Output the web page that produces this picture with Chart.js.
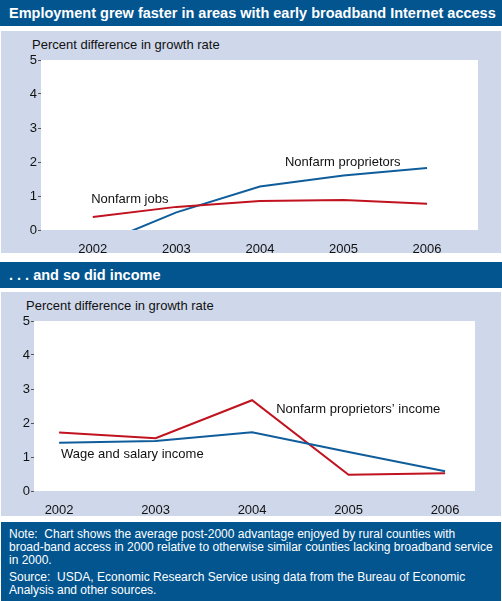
<!DOCTYPE html>
<html><head><meta charset="utf-8">
<script src="https://cdn.jsdelivr.net/npm/chart.js@4"></script>
<style>
body{margin:0;width:502px;height:601px;background:#fff;font-family:"Liberation Sans",Arial,sans-serif;position:relative;overflow:hidden}
.bar{position:absolute;left:0;width:502px;height:26px;background:#02558f;color:#fff;font-weight:bold;font-size:14.5px;line-height:26px;box-sizing:border-box;padding-left:9px}
.panel{position:absolute;left:1px;width:500px;background:#cfd8ea}
.ttl{position:absolute;font-size:13px;color:#111}
.note{position:absolute;left:1px;top:522px;width:500px;height:79px;background:#02558f;color:#fff;font-size:12px;line-height:13px;box-sizing:border-box;padding:6px 8px}
canvas{position:absolute;left:0}
</style></head><body>
<div class="bar" style="top:0">Employment grew faster in areas with early broadband Internet access . . .</div>
<div class="panel" style="top:31px;height:222px"></div>
<div class="ttl" style="left:32px;top:37px">Percent difference in growth rate</div>
<div style="position:absolute;left:0;top:31px;width:502px;height:222px"><canvas id="c1"></canvas></div>
<div class="bar" style="top:262px">. . . and so did income</div>
<div class="panel" style="top:292px;height:224px"></div>
<div class="ttl" style="left:26px;top:298px">Percent difference in growth rate</div>
<div style="position:absolute;left:0;top:292px;width:502px;height:224px"><canvas id="c2"></canvas></div>
<div class="note">Note:&nbsp; Chart shows the average post-2000 advantage enjoyed by rural counties with broad-band access in 2000 relative to otherwise similar counties lacking broadband service in 2000.<div style="margin-top:4px">Source:&nbsp; USDA, Economic Research Service using data from the Bureau of Economic Analysis and other sources.</div></div>
<script>
const years = [2002, 2003, 2004, 2005, 2006];
const yTicks = [0, 1, 2, 3, 4, 5];
const nonfarmJobs = [0.38, 0.68, 0.85, 0.88, 0.77];
const nonfarmProprietors = [-0.5, 0.52, 1.28, 1.6, 1.82];
const proprietorsIncome = [1.72, 1.55, 2.67, 0.48, 0.52];
const wageIncome = [1.42, 1.47, 1.73, 1.15, 0.58];
const labels1 = [{x: 2004.3, y: 2.0, t: 'Nonfarm proprietors'}, {x: 2001.98, y: 0.9, t: 'Nonfarm jobs'}];
const labels2 = [{x: 2004.25, y: 2.4, t: 'Nonfarm proprietors\u2019 income'}, {x: 2002.02, y: 1.08, t: 'Wage and salary income'}];

const RED = '#c0121f', BLUE = '#0f5d9b';

const chartBg = {
  id: 'chartBg',
  beforeDraw(c) {
    const a = c.chartArea, ctx = c.ctx;
    ctx.save(); ctx.fillStyle = '#fff';
    ctx.fillRect(a.left, a.top, a.right - a.left, a.bottom - a.top);
    ctx.restore();
  }
};
const textLabels = {
  id: 'textLabels',
  afterDraw(c) {
    const ctx = c.ctx, xs = c.scales.x, ys = c.scales.y;
    ctx.save();
    ctx.font = '13px "Liberation Sans", Arial, sans-serif';
    ctx.fillStyle = '#111'; ctx.textBaseline = 'middle';
    c.options.plugins.textLabels.items.forEach(l => {
      ctx.fillText(l.t, xs.getPixelForValue(l.x), ys.getPixelForValue(l.y));
    });
    ctx.restore();
  }
};

function make(id, s1, s2, col1, col2, xmin, xmax, pad, items) {
  new Chart(document.getElementById(id), {
    type: 'line',
    data: {
      datasets: [
        {data: years.map((y, i) => ({x: y, y: s1[i]})), borderColor: col1, borderWidth: 2, pointRadius: 0, tension: 0},
        {data: years.map((y, i) => ({x: y, y: s2[i]})), borderColor: col2, borderWidth: 2, pointRadius: 0, tension: 0}
      ]
    },
    options: {
      responsive: true, maintainAspectRatio: false, animation: false,
      layout: {padding: {left: 0, right: pad.right, top: pad.top, bottom: 0}},
      plugins: {legend: {display: false}, tooltip: {enabled: false}, textLabels: {items: items}},
      scales: {
        x: {
          type: 'linear', min: xmin, max: xmax,
          afterBuildTicks: s => { s.ticks = years.map(v => ({value: v})); },
          afterFit: s => { s.height = pad.xh; },
          grid: {display: false}, border: {display: false},
          ticks: {color: '#111', font: {size: 13, family: '"Liberation Sans", Arial'}, padding: 4, callback: v => String(v), maxRotation: 0}
        },
        y: {
          min: 0, max: 5,
          afterBuildTicks: s => { s.ticks = yTicks.map(v => ({value: v})); },
          afterFit: s => { s.width = pad.left; },
          grid: {drawOnChartArea: false, drawTicks: true, tickLength: 3, color: '#555'},
          border: {display: false},
          ticks: {color: '#111', font: {size: 13, family: '"Liberation Sans", Arial'}, padding: 1}
        }
      }
    },
    plugins: [chartBg, textLabels]
  });
}
make('c1', nonfarmJobs, nonfarmProprietors, RED, BLUE, 2001.38, 2006.61, {left: 41, right: 24, top: 29, xh: 23}, labels1);
make('c2', wageIncome, proprietorsIncome, BLUE, RED, 2001.74, 2006.31, {left: 34, right: 27, top: 29, xh: 25}, labels2);
</script>
</body></html>
